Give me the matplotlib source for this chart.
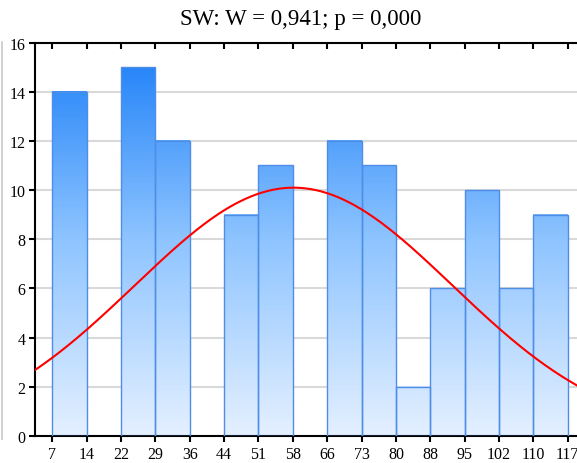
import numpy as np
import matplotlib.pyplot as plt
from matplotlib.colors import LinearSegmentedColormap
from matplotlib.lines import Line2D

plt.rcParams['font.family'] = ['Liberation Serif', 'DejaVu Serif']

# histogram bins (15 equal bins from 7 to 117) and counts
bin_edges = np.linspace(7, 117, 16)
counts = [14, 0, 15, 12, 0, 9, 11, 0, 12, 11, 2, 6, 10, 6, 9]
tick_labels = ['7', '14', '22', '29', '36', '44', '51', '58', '66',
               '73', '80', '88', '95', '102', '110', '117']

# fitted normal curve parameters
n_total = sum(counts)
mu = 58.5
sigma = 33.9
sw_w = 0.941
sw_p = 0.000

fig = plt.figure(figsize=(5.77, 4.64), dpi=100)
ax = fig.add_axes([35 / 577, (464 - 437) / 464, 550 / 577, 393.5 / 464])

xmin, xmax = 3.3, 120.7
ymax = 16

cmap = LinearSegmentedColormap.from_list('bar_fill', ['#e4f0ff', '#8ec4ff', '#1a7ef8'])
width = bin_edges[1] - bin_edges[0]

for left, c in zip(bin_edges[:-1], counts):
    if c == 0:
        continue
    grad = np.linspace(0, c, 256).reshape(-1, 1)
    ax.imshow(grad, extent=[left, left + width, 0, c], origin='lower',
              aspect='auto', cmap=cmap, vmin=0, vmax=ymax, zorder=2)
    ax.bar(left, c, width=width, align='edge', facecolor='none',
           edgecolor='#4f8ee6', linewidth=1.0, zorder=3)

xs = np.linspace(xmin, xmax, 400)
pdf = np.exp(-0.5 * ((xs - mu) / sigma) ** 2) / (sigma * np.sqrt(2 * np.pi))
ax.plot(xs, n_total * width * pdf, color='red', linewidth=1.5, zorder=4)

ax.set_xlim(xmin, xmax)
ax.set_ylim(0, ymax)
ax.set_xticks(bin_edges)
ax.set_xticklabels(tick_labels)
ax.set_yticks(np.arange(0, 17, 2))

ax.yaxis.grid(True, color='#d9d9d9', linewidth=1.5, zorder=0)
ax.set_axisbelow(True)

for side in ['left', 'top', 'bottom']:
    ax.spines[side].set_linewidth(1.5)
    ax.spines[side].set_color('black')
ax.spines['right'].set_visible(False)

ax.tick_params(axis='x', direction='out', length=4, width=1.5,
               labelsize=11.5, pad=3)
ax.tick_params(axis='y', direction='out', length=4, width=1.5,
               labelsize=11.5, pad=3)
ax.tick_params(axis='x', top=True, labeltop=False)
for t in ax.xaxis.get_major_ticks():
    t.tick2line.set_marker(3)  # top ticks pointing inward

fig.text(301 / 577, 1 - 19 / 464,
         'SW: W = {:.3f}; p = {:.3f}'.format(sw_w, sw_p).replace('.', ','),
         ha='center', va='center', fontsize=16.5)

fig.add_artist(Line2D([2 / 577, 2 / 577], [1 - 43 / 464, 1 - 440 / 464],
                      color='#c8c8c8', linewidth=1.2, transform=fig.transFigure))

fig.savefig('out.png', dpi=100)
